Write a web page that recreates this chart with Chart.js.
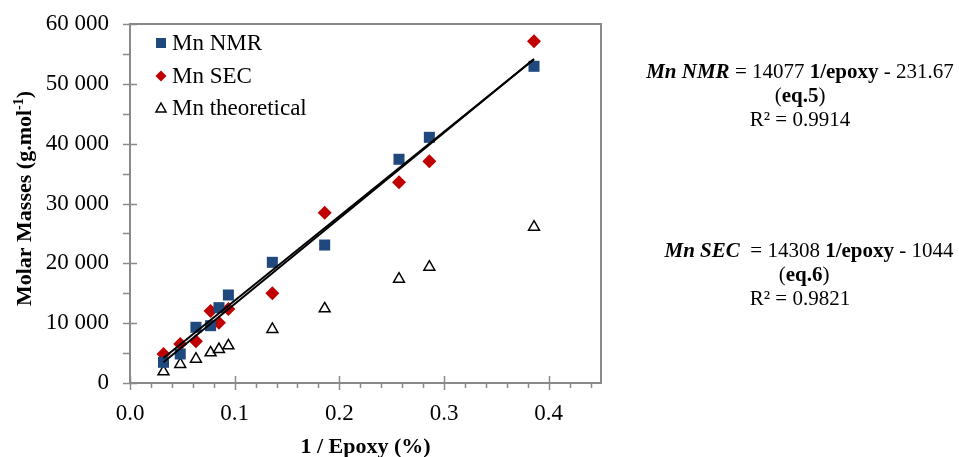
<!DOCTYPE html>
<html>
<head>
<meta charset="utf-8">
<script src="https://cdn.jsdelivr.net/npm/chart.js@4/dist/chart.umd.min.js"></script>
<style>
    html, body { margin: 0; padding: 0; background: #fff; }
    #wrap { position: relative; width: 959px; height: 457px; }
    .eq {
        position: absolute; left: 640px; width: 320px; text-align: center;
        font-family: 'Liberation Serif', serif; font-size: 21px; line-height: 24px;
        color: #000;
    }
</style>
</head>
<body>
<div id="wrap">
    <canvas id="chart" width="959" height="457"></canvas>
    <div class="eq" style="top:59px">
        <div><b><i>Mn NMR</i></b> = 14077 <b>1/epoxy</b> - 231.67</div>
        <div>(<b>eq.5</b>)</div>
        <div>R² = 0.9914</div>
    </div>
    <div class="eq" style="top:238px">
        <div style="margin-left:18px"><b><i>Mn SEC</i></b>&nbsp; = 14308 <b>1/epoxy</b> - 1044</div>
        <div style="margin-left:8px">(<b>eq.6</b>)</div>
        <div>R² = 0.9821</div>
    </div>
</div>
<script>
// 1 / epoxy (%) for each sample
const xEpoxy = [0.032, 0.048, 0.063, 0.077, 0.085, 0.094, 0.136, 0.186, 0.257, 0.286, 0.386];
const mnNmr = [3460, 4850, 9310, 9580, 12590, 14710, 20170, 23060, 37390, 41060, 52930];
const mnSec = [4850, 6520, 6970, 12030, 10080, 12370, 14990, 28460, 33540, 37050, 57110];
const mnTheo = [1890, 3130, 4010, 5060, 5630, 6230, 8980, 12420, 17380, 19390, 26070];

const xTickValues = [0, 0.1, 0.2, 0.3, 0.4];
const legendLabels = ['Mn NMR', 'Mn SEC', 'Mn theoretical'];
const xTitle = '1 / Epoxy (%)';
const yTitle = 'Molar Masses (g.mol';

const FONT = "'Liberation Serif', serif";
const AXIS_GREY = '#8a8a8a';
const BLUE = '#1F497D';
const RED = '#C00000';

const toPoints = (ys) => xEpoxy.map((x, i) => ({ x, y: ys[i] }));

// least squares trendline over the measured points, like the spreadsheet one
const trendline = (ys) => {
    const n = xEpoxy.length;
    const mx = xEpoxy.reduce((a, b) => a + b, 0) / n;
    const my = ys.reduce((a, b) => a + b, 0) / n;
    let sxy = 0;
    let sxx = 0;
    xEpoxy.forEach((x, i) => {
        sxy += (x - mx) * (ys[i] - my);
        sxx += (x - mx) * (x - mx);
    });
    const k = sxy / sxx;
    const b = my - k * mx;
    const x0 = xEpoxy[0];
    const x1 = xEpoxy[n - 1];
    return [{ x: x0, y: k * x0 + b }, { x: x1, y: k * x1 + b }];
};
const fmtThousands = (v) => String(v).replace(/\B(?=(\d{3})+(?!\d))/g, ' ');

const frame = {
    id: 'frame',
    beforeDatasetsDraw(chart) {
        const { ctx, chartArea: a, scales } = chart;
        ctx.save();
        ctx.strokeStyle = AXIS_GREY;
        ctx.lineWidth = 2;
        ctx.strokeRect(a.left, a.top, a.right - a.left, a.bottom - a.top);
        ctx.lineWidth = 1.5;
        ctx.beginPath();
        for (let i = 0; i <= 22; i++) {
            const px = Math.round(scales.x.getPixelForValue(i * 0.02)) + 0.5;
            if (px > a.right - 1) break;
            const major = i % 5 === 0;
            ctx.moveTo(px, major ? a.bottom - 7 : a.bottom);
            ctx.lineTo(px, a.bottom + (major ? 7 : 5));
        }
        for (let v = 0; v <= 60000; v += 5000) {
            const py = Math.round(scales.y.getPixelForValue(v)) + 0.5;
            const major = v % 10000 === 0;
            ctx.moveTo(a.left - 7, py);
            ctx.lineTo(major ? a.left + 7 : a.left, py);
        }
        ctx.stroke();
        ctx.restore();
    },
    afterDraw(chart) {
        const { ctx, chartArea: a } = chart;
        ctx.save();
        ctx.fillStyle = '#000';

        // axis titles
        ctx.font = `bold 22px ${FONT}`;
        ctx.textAlign = 'center';
        ctx.textBaseline = 'alphabetic';
        ctx.fillText(xTitle, (a.left + a.right) / 2, 453);

        ctx.translate(31, 198.5);
        ctx.rotate(-Math.PI / 2);
        const w1 = ctx.measureText(yTitle).width;
        ctx.font = `bold 14px ${FONT}`;
        const w2 = ctx.measureText('-1').width;
        ctx.font = `bold 22px ${FONT}`;
        const w3 = ctx.measureText(')').width;
        let x = -(w1 + w2 + w3) / 2;
        ctx.textAlign = 'left';
        ctx.fillText(yTitle, x, 0);
        x += w1;
        ctx.font = `bold 14px ${FONT}`;
        ctx.fillText('-1', x, -8);
        x += w2;
        ctx.font = `bold 22px ${FONT}`;
        ctx.fillText(')', x, 0);
        ctx.restore();

        // legend inside plot area
        ctx.save();
        const mx = a.left + 31;
        const tx = a.left + 42;
        const rows = [a.top + 19, a.top + 52, a.top + 84];
        ctx.fillStyle = BLUE;
        ctx.fillRect(mx - 5, rows[0] - 5, 10, 10);
        ctx.fillStyle = RED;
        ctx.beginPath();
        ctx.moveTo(mx, rows[1] - 5.5);
        ctx.lineTo(mx + 5.5, rows[1]);
        ctx.lineTo(mx, rows[1] + 5.5);
        ctx.lineTo(mx - 5.5, rows[1]);
        ctx.closePath();
        ctx.fill();
        ctx.strokeStyle = '#000';
        ctx.lineWidth = 1.5;
        ctx.beginPath();
        ctx.moveTo(mx, rows[2] - 5);
        ctx.lineTo(mx + 5, rows[2] + 4);
        ctx.lineTo(mx - 5, rows[2] + 4);
        ctx.closePath();
        ctx.stroke();
        ctx.fillStyle = '#000';
        ctx.font = `23px ${FONT}`;
        ctx.textAlign = 'left';
        ctx.textBaseline = 'middle';
        legendLabels.forEach((t, i) => ctx.fillText(t, tx, rows[i] + 1));
        ctx.restore();
    },
};

new Chart(document.getElementById('chart'), {
    type: 'scatter',
    data: {
        datasets: [
            {
                data: trendline(mnNmr),
                showLine: true,
                borderColor: '#000',
                borderWidth: 2,
                pointRadius: 0,
            },
            {
                data: trendline(mnSec),
                showLine: true,
                borderColor: '#000',
                borderWidth: 2,
                pointRadius: 0,
            },
            {
                label: legendLabels[0],
                data: toPoints(mnNmr),
                pointStyle: 'rect',
                pointRadius: 7.8,
                backgroundColor: BLUE,
                borderWidth: 0,
            },
            {
                label: legendLabels[1],
                data: toPoints(mnSec),
                pointStyle: 'rectRot',
                pointRadius: 7,
                backgroundColor: RED,
                borderWidth: 0,
            },
            {
                label: legendLabels[2],
                data: toPoints(mnTheo),
                pointStyle: 'triangle',
                pointRadius: 6.3,
                backgroundColor: '#fff',
                borderColor: '#000',
                borderWidth: 1.5,
            },
        ],
    },
    options: {
        responsive: false,
        devicePixelRatio: 1,
        animation: false,
        layout: { padding: { left: 0, top: 24, right: 358, bottom: 0 } },
        plugins: { legend: { display: false }, tooltip: { enabled: false } },
        scales: {
            x: {
                type: 'linear',
                min: 0,
                max: 0.45,
                grid: { display: false, drawTicks: false },
                border: { display: false },
                afterFit: (scale) => {
                    scale.height = 74;
                    scale.paddingLeft = 0;
                    scale.paddingRight = 0;
                },
                afterBuildTicks: (scale) => { scale.ticks = xTickValues.map((value) => ({ value })); },
                ticks: {
                    autoSkip: false,
                    maxRotation: 0,
                    padding: 17,
                    color: '#000',
                    font: { family: FONT, size: 23 },
                    callback: (v) => v.toFixed(1),
                },
            },
            y: {
                min: 0,
                max: 60000,
                grid: { display: false, drawTicks: false },
                border: { display: false },
                afterFit: (scale) => {
                    scale.width = 130;
                    scale.paddingTop = 0;
                    scale.paddingBottom = 0;
                },
                ticks: {
                    stepSize: 10000,
                    padding: 21,
                    color: '#000',
                    font: { family: FONT, size: 23 },
                    callback: (v) => fmtThousands(v),
                },
            },
        },
    },
    plugins: [frame],
});
</script>
</body>
</html>
